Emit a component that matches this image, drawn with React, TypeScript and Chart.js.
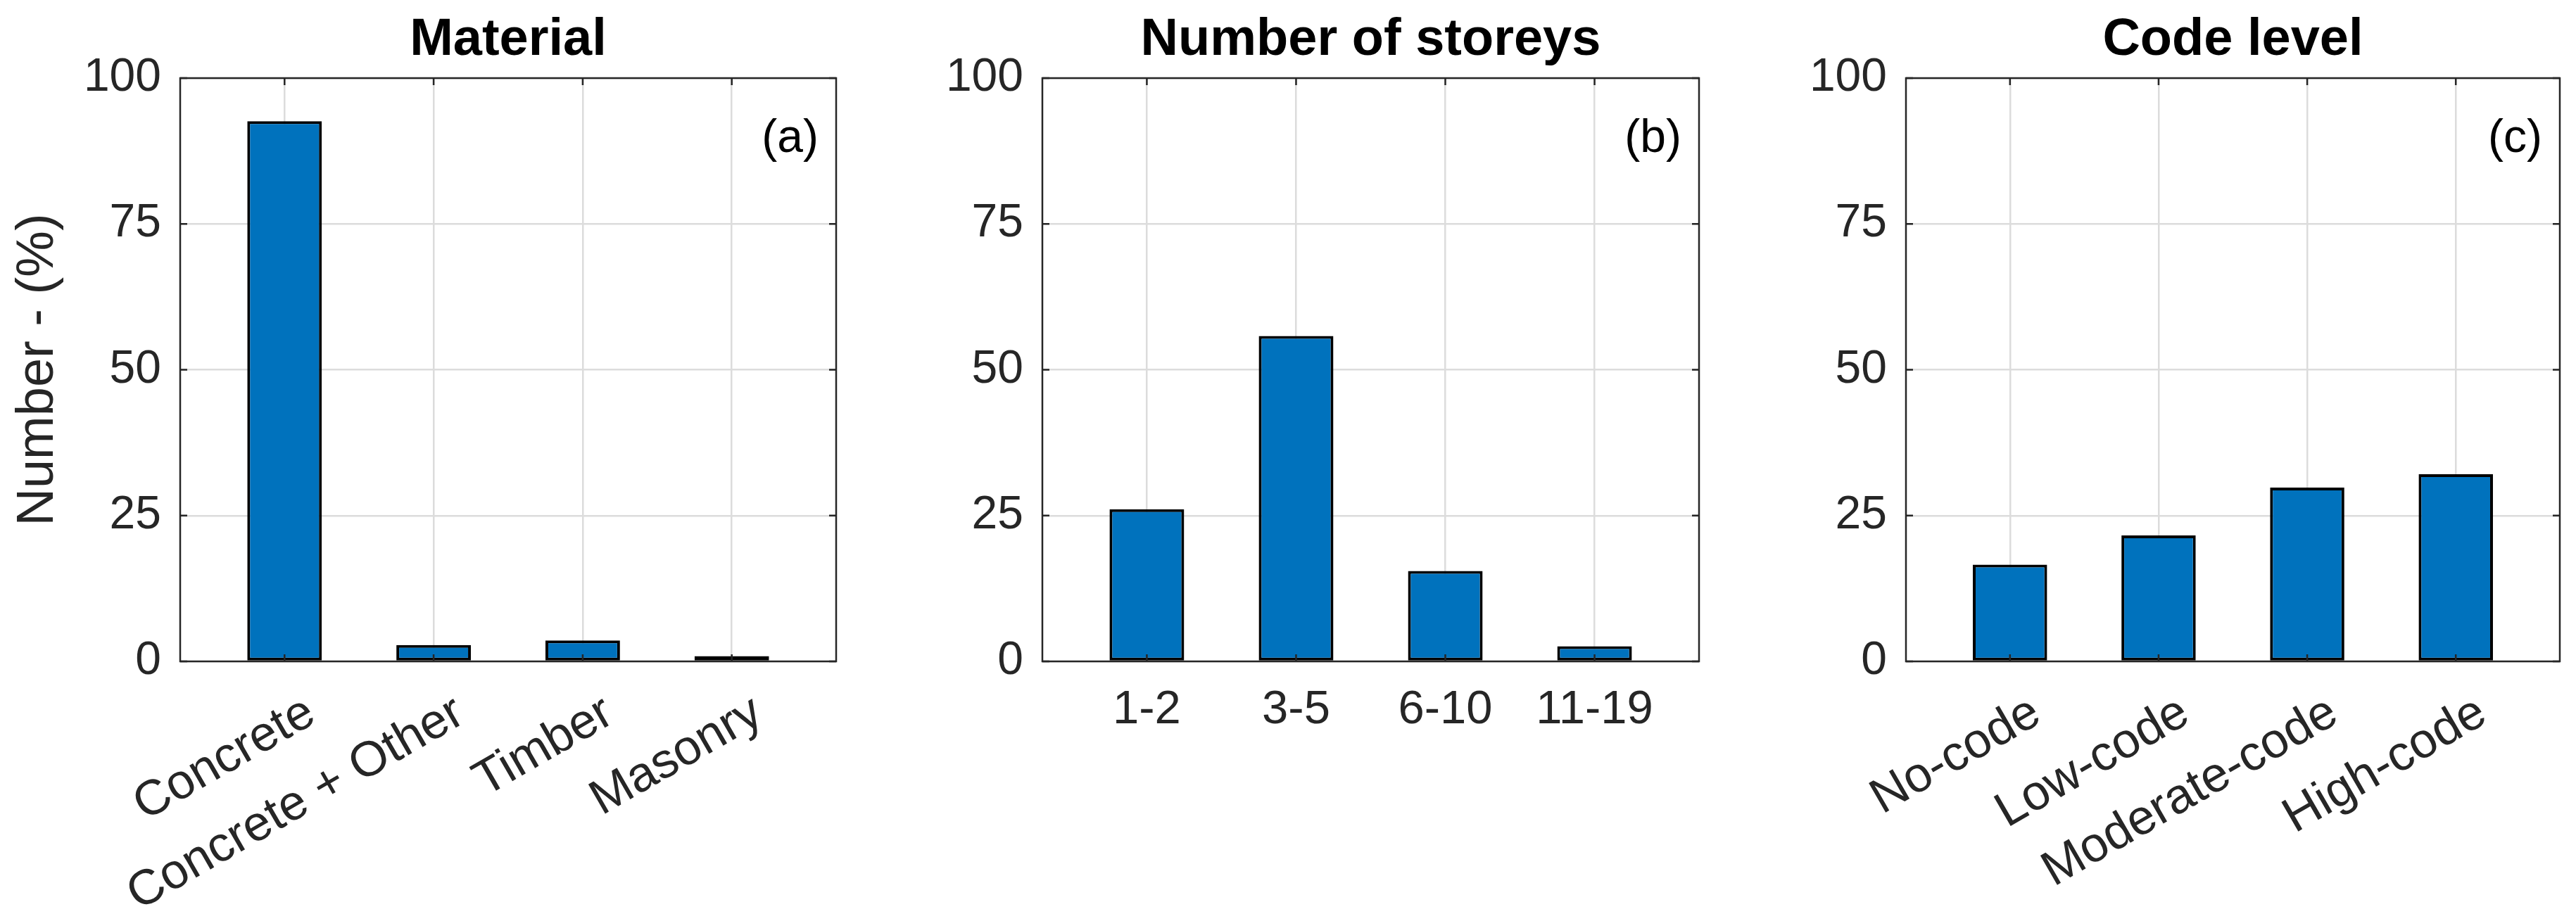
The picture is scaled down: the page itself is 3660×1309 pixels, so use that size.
import React, { useEffect, useRef } from 'react';
import { Chart, registerables } from 'chart.js';

Chart.register(...registerables);

// ---- Data ----
const materialLabels = ['Concrete', 'Concrete + Other', 'Timber', 'Masonry'];
const materialValues = [92.6, 2.8, 3.6, 0.9];

const storeyLabels = ['1-2', '3-5', '6-10', '11-19'];
const storeyValues = [26.1, 55.8, 15.5, 2.6];

const codeLabels = ['No-code', 'Low-code', 'Moderate-code', 'High-code'];
const codeValues = [16.6, 21.6, 29.8, 32.1];

const yTickValues = [0, 25, 50, 75, 100];

const panelTitles = ['Material', 'Number of storeys', 'Code level'];
const panelTags = ['(a)', '(b)', '(c)'];
const yAxisTitle = 'Number - (%)';

// ---- Styles ----
const FONT = "'Liberation Sans', Arial, Helvetica, sans-serif";
const AXIS_COLOR = '#262626';
const GRID_COLOR = '#dcdcdc';
const BAR_COLOR = '#0072BD';
const CANVAS_H = 1309;
const PLOT_TOP = 111;
const PLOT_BOTTOM = 940;
const Y_AXIS_W = 256;

type PanelProps = {
  labels: string[];
  values: number[];
  title: string;
  tag: string;
  rotation: number;
  yTitle?: string;
  left: number;
  plotWidth: number;
  labelPadding: number;
  labelOffset: number;
  labelSize: number;
};

function Panel({ labels, values, title, tag, rotation, yTitle, left, plotWidth, labelPadding, labelOffset, labelSize }: PanelProps) {
  const ref = useRef<HTMLCanvasElement>(null);
  const canvasW = Y_AXIS_W + plotWidth + 20;

  useEffect(() => {
    const canvas = ref.current!;
    const framePlugin = {
      id: 'frame',
      afterDatasetsDraw(chart: any) {
        const { ctx, chartArea, scales } = chart;
        const { left: l, right: r, top: t, bottom: b } = chartArea;
        ctx.save();
        ctx.strokeStyle = AXIS_COLOR;
        ctx.lineWidth = 2.5;
        ctx.beginPath();
        labels.forEach((_, i) => {
          const px = scales.x.getPixelForValue(i + 1);
          ctx.moveTo(px, b);
          ctx.lineTo(px, b - 10);
          ctx.moveTo(px, t);
          ctx.lineTo(px, t + 10);
        });
        yTickValues.forEach((v) => {
          const py = scales.y.getPixelForValue(v);
          ctx.moveTo(l, py);
          ctx.lineTo(l + 10, py);
          ctx.moveTo(r, py);
          ctx.lineTo(r - 10, py);
        });
        ctx.stroke();
        ctx.strokeRect(l, t, r - l, b - t);

        ctx.fillStyle = '#000';
        ctx.font = `bold 74px ${FONT}`;
        ctx.textAlign = 'center';
        ctx.textBaseline = 'alphabetic';
        ctx.fillText(title, (l + r) / 2, 78);

        ctx.font = `66px ${FONT}`;
        ctx.textAlign = 'right';
        ctx.fillText(tag, r - 25, t + 105);
        ctx.restore();
      },
    };

    const chart = new Chart(canvas, {
      type: 'bar',
      data: {
        datasets: [
          {
            data: values.map((v, i) => ({ x: i + 1, y: v })),
            backgroundColor: BAR_COLOR,
            borderColor: '#000000',
            borderWidth: 4,
            borderSkipped: false,
            barPercentage: 0.5,
            categoryPercentage: 1,
          } as any,
        ],
      },
      options: {
        responsive: false,
        animation: false,
        devicePixelRatio: 1,
        layout: { padding: { left: 0, right: canvasW - Y_AXIS_W - plotWidth, top: PLOT_TOP, bottom: 0 } },
        plugins: {
          legend: { display: false },
          tooltip: { enabled: false },
          title: { display: false },
        },
        scales: {
          x: {
            type: 'linear',
            min: 0.3,
            max: 4.7,
            offset: false,
            afterBuildTicks: (s: any) => {
              s.ticks = labels.map((_, i) => ({ value: i + 1 }));
            },
            afterFit: (s: any) => {
              s.height = CANVAS_H - PLOT_BOTTOM;
            },
            ticks: {
              autoSkip: false,
              minRotation: rotation,
              maxRotation: rotation,
              padding: labelPadding,
              labelOffset: labelOffset,
              color: AXIS_COLOR,
              font: { family: FONT, size: labelSize },
              callback: (v: any) => labels[Math.round(Number(v)) - 1] ?? '',
            },
            grid: { color: GRID_COLOR, lineWidth: 2.5, drawTicks: false, offset: false },
            border: { display: false },
          },
          y: {
            min: 0,
            max: 100,
            afterBuildTicks: (s: any) => {
              s.ticks = yTickValues.map((v) => ({ value: v }));
            },
            afterFit: (s: any) => {
              s.width = Y_AXIS_W;
            },
            ticks: {
              padding: 27,
              color: AXIS_COLOR,
              font: { family: FONT, size: 66 },
            },
            grid: { color: GRID_COLOR, lineWidth: 2.5, drawTicks: false },
            border: { display: false },
            title: yTitle
              ? {
                  display: true,
                  text: yTitle,
                  color: AXIS_COLOR,
                  font: { family: FONT, size: 74 },
                  padding: { top: 10, bottom: 0 },
                }
              : { display: false },
          },
        },
      } as any,
      plugins: [framePlugin],
    });
    return () => chart.destroy();
  }, []);

  return (
    <canvas
      ref={ref}
      width={canvasW}
      height={CANVAS_H}
      style={{ position: 'absolute', left, top: 0, display: 'block' }}
    />
  );
}

export default function App() {
  useEffect(() => {
    document.body.style.margin = '0';
    document.body.style.background = '#ffffff';
  }, []);
  return (
    <div style={{ position: 'relative', width: 3660, height: CANVAS_H, background: '#fff', overflow: 'hidden' }}>
      <Panel
        labels={materialLabels}
        values={materialValues}
        title={panelTitles[0]}
        tag={panelTags[0]}
        rotation={30}
        yTitle={yAxisTitle}
        left={0}
        plotWidth={932}
        labelPadding={32}
        labelOffset={38}
        labelSize={70}
      />
      <Panel
        labels={storeyLabels}
        values={storeyValues}
        title={panelTitles[1]}
        tag={panelTags[1]}
        rotation={0}
        left={1225}
        plotWidth={933}
        labelPadding={29}
        labelOffset={0}
        labelSize={67}
      />
      <Panel
        labels={codeLabels}
        values={codeValues}
        title={panelTitles[2]}
        tag={panelTags[2]}
        rotation={30}
        left={2452}
        plotWidth={929}
        labelPadding={32}
        labelOffset={38}
        labelSize={70}
      />
    </div>
  );
}
